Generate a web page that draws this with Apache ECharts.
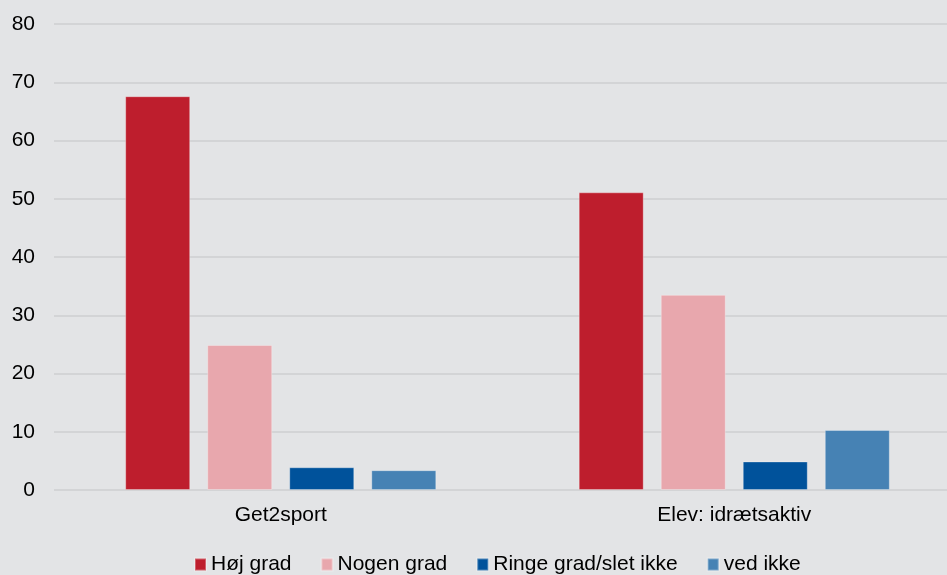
<!DOCTYPE html>
<html><head><meta charset="utf-8">
<script src="https://cdn.jsdelivr.net/npm/echarts@6/dist/echarts.min.js"></script>
<style>html,body{margin:0;padding:0;background:#e3e4e6;overflow:hidden}#c{width:961px;height:575px}</style>
</head><body><div id="c"></div>
<script>
const categories = ['Get2sport', 'Elev: idrætsaktiv'];
const hojGrad = [67.6, 51.1];
const nogenGrad = [24.9, 33.5];
const ringeGrad = [3.9, 4.9];
const vedIkke = [3.4, 10.3];
const yTicks = [0, 80, 10];

const chart = echarts.init(document.getElementById('c'), null, {renderer: 'canvas'});
const font = 'Liberation Sans, Arial, sans-serif';
function s(name, data, color) {
  return {name, type: 'bar', data, barWidth: 65, barGap: '26.2%',
    itemStyle: {color, borderColor: 'rgba(255,255,255,0.3)', borderWidth: 1}};
}
chart.setOption({
  backgroundColor: '#e3e4e6',
  animation: false,
  grid: {left: 54, right: 0, top: 24, bottom: 85, containLabel: false},
  legend: {
    left: 189, top: 549, itemWidth: 11, itemHeight: 12, itemGap: 29,
    icon: 'rect',
    textStyle: {fontFamily: font, fontSize: 21, color: '#000'},
    data: ['Høj grad', 'Nogen grad', 'Ringe grad/slet ikke', 'ved ikke']
  },
  xAxis: {
    type: 'category', data: categories,
    axisLine: {show: false}, axisTick: {show: false},
    axisLabel: {fontFamily: font, fontSize: 21, color: '#000', margin: 15}
  },
  yAxis: {
    type: 'value', min: yTicks[0], max: yTicks[1], interval: yTicks[2],
    axisLine: {show: false}, axisTick: {show: false},
    axisLabel: {fontFamily: font, fontSize: 21, color: '#000', margin: 19},
    splitLine: {lineStyle: {color: '#d3d4d6', width: 2}}
  },
  series: [
    s('Høj grad', hojGrad, '#be1e2d'),
    s('Nogen grad', nogenGrad, '#e8a7ad'),
    s('Ringe grad/slet ikke', ringeGrad, '#00529b'),
    s('ved ikke', vedIkke, '#4682b4')
  ]
});
</script></body></html>
